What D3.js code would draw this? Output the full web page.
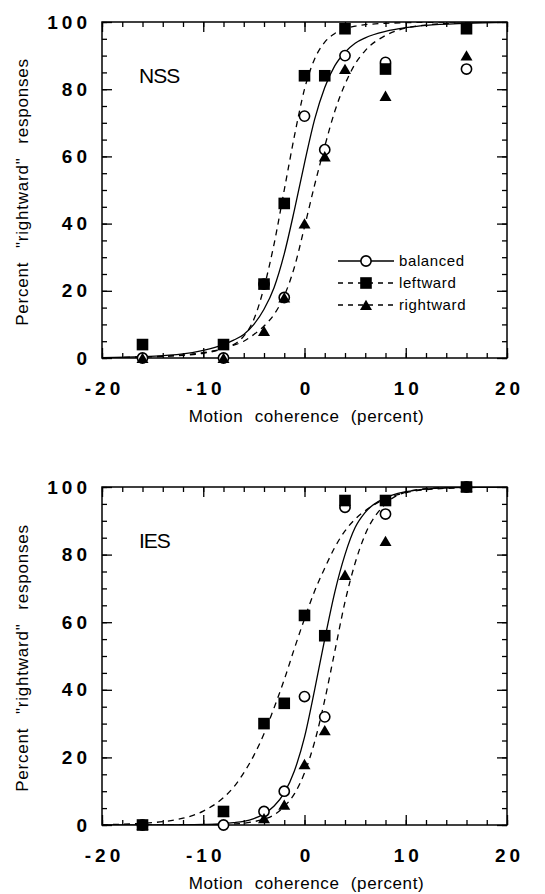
<!DOCTYPE html>
<html>
<head>
<meta charset="utf-8">
<script src="https://cdn.jsdelivr.net/npm/d3@7"></script>
<style>
  body { margin: 0; background: #fff; }
  svg { display: block; font-family: "Liberation Sans", Arial, sans-serif; }
  .tick-label { font-size: 19px; font-weight: bold; letter-spacing: 4px; }
  .axis-title { font-size: 17px; word-spacing: 6px; letter-spacing: 0.6px; }
  .legend-text { font-size: 15px; letter-spacing: 0.6px; }
</style>
</head>
<body>
<script>
// coherence levels used for the data points
var coherence = [-16, -8, -4, -2, 0, 2, 4, 8, 16];

// NSS (top panel), percent rightward
var nssBalanced  = [0, 0, 22, 18, 72, 62, 90, 88, 86];
var nssLeftward  = [4, 4, 22, 46, 84, 84, 98, 86, 98];
var nssRightward = [0, 0, 8, 18, 40, 60, 86, 78, 90];

// IES (bottom panel)
var iesBalanced  = [0, 0, 4, 10, 38, 32, 94, 92, 100];
var iesLeftward  = [0, 4, 30, 36, 62, 56, 96, 96, 100];
var iesRightward = [0, 4, 2, 6, 18, 28, 74, 84, 100];

// fitted curves
var fitX = [-20, -16, -12, -10, -8, -7, -6, -5, -4, -3, -2, -1, 0, 1, 2, 3, 4, 5, 6, 8, 10, 12, 16, 20];
var nssFitBalanced  = [0.1, 0.4, 1.2, 2.3, 4, 5.3, 7, 10, 14.5, 21, 31, 44, 58, 71, 80.5, 87, 91, 93.7, 95.3, 97.2, 98.3, 99, 99.6, 99.9];
var nssFitLeftward  = [0, 0.3, 0.8, 1.4, 2.8, 4, 6.5, 11.5, 21, 34, 50, 66, 80, 89, 94, 96.6, 98, 98.8, 99.2, 99.6, 99.8, 99.9, 100, 100];
var nssFitRightward = [0, 0.3, 0.9, 1.6, 2.8, 3.8, 5, 7, 9.5, 13, 18.5, 27, 39, 51.5, 63, 73.5, 81.5, 87.5, 91.5, 96, 98.2, 99.1, 99.8, 100];
var iesFitBalanced  = [0, 0, 0.05, 0.15, 0.4, 0.7, 1.1, 1.9, 3.3, 5.6, 9.5, 16, 26, 40, 55, 69, 80, 88, 92.5, 96.8, 98.6, 99.4, 99.9, 100];
var iesFitLeftward  = [0.1, 0.5, 2, 4.1, 8.1, 11.2, 15.4, 20.6, 27, 34.7, 43, 52.2, 61, 69.2, 76, 82.2, 87, 90.5, 93, 96.5, 98.3, 99.2, 99.8, 100];
var iesFitRightward = [0, 0, 0, 0.05, 0.2, 0.3, 0.5, 1, 1.7, 3, 5.5, 9.2, 15.4, 24.6, 37, 51.5, 66, 77.5, 86, 95, 98.5, 99.5, 100, 100];

var xLabels = [-20, -10, 0, 10, 20];
var yLabels = [0, 20, 40, 60, 80, 100];
var seriesNames = ["balanced", "leftward", "rightward"];

var W = 545, H = 894;
var left = 102, right = 507;

var svg = d3.select("body").append("svg")
	.attr("width", W)
	.attr("height", H);

var x = d3.scaleLinear().domain([-20, 20]).range([left, right]);

var circleSym = d3.symbol().type(d3.symbolCircle).size(82);

function drawMarker(g, kind, cx, cy) {
	if (kind == "balanced") {
		g.append("path").attr("d", circleSym())
			.attr("transform", "translate(" + cx + "," + cy + ")")
			.attr("fill", "#fff").attr("stroke", "#000").attr("stroke-width", 1.6);
	} else if (kind == "leftward") {
		g.append("rect")
			.attr("x", cx - 5.8).attr("y", cy - 5.8)
			.attr("width", 11.6).attr("height", 11.6)
			.attr("fill", "#000");
	} else {
		// triangle centred on its bounding box
		var p = d3.path();
		p.moveTo(cx, cy - 5.3);
		p.lineTo(cx + 6, cy + 5);
		p.lineTo(cx - 6, cy + 5);
		p.closePath();
		g.append("path").attr("d", p.toString()).attr("fill", "#000");
	}
}

/* draws one panel, top and bottom are the pixel rows of 100 and 0 */
function drawPanel(top, bottom, name, data, fits, showLegend) {
	var y = d3.scaleLinear().domain([0, 100]).range([bottom, top]);
	var g = svg.append("g");

	// inward ticks on all four sides
	var minorX = d3.range(-20, 21, 2), majorX = xLabels;
	var minorY = d3.range(0, 101, 5), majorY = yLabels;

	g.append("g").attr("transform", "translate(0," + bottom + ")")
		.call(d3.axisBottom(x).tickValues(minorX).tickSize(-5).tickFormat(""));
	g.append("g").attr("transform", "translate(0," + bottom + ")")
		.call(d3.axisBottom(x).tickValues(majorX).tickSize(-10).tickFormat(""));
	g.append("g").attr("transform", "translate(0," + top + ")")
		.call(d3.axisTop(x).tickValues(minorX).tickSize(-5).tickFormat(""));
	g.append("g").attr("transform", "translate(0," + top + ")")
		.call(d3.axisTop(x).tickValues(majorX).tickSize(-10).tickFormat(""));
	g.append("g").attr("transform", "translate(" + left + ",0)")
		.call(d3.axisLeft(y).tickValues(minorY).tickSize(-5).tickFormat(""));
	g.append("g").attr("transform", "translate(" + left + ",0)")
		.call(d3.axisLeft(y).tickValues(majorY).tickSize(-10).tickFormat(""));
	g.append("g").attr("transform", "translate(" + right + ",0)")
		.call(d3.axisRight(y).tickValues(minorY).tickSize(-5).tickFormat(""));
	g.append("g").attr("transform", "translate(" + right + ",0)")
		.call(d3.axisRight(y).tickValues(majorY).tickSize(-10).tickFormat(""));

	g.selectAll(".domain").remove();
	g.selectAll(".tick line").attr("stroke", "#000").attr("stroke-width", 1.3);

	// tick labels
	var xl = g.append("g").attr("transform", "translate(0," + bottom + ")")
		.call(d3.axisBottom(x).tickValues(xLabels).tickSize(0).tickPadding(24).tickFormat(function(d) { return String(d); }));
	xl.select(".domain").remove();
	xl.selectAll("text").attr("class", "tick-label").attr("fill", "#000").attr("font-size", null).attr("font-family", null)
		.attr("dx", "2px");

	var yl = g.append("g").attr("transform", "translate(" + left + ",0)")
		.call(d3.axisLeft(y).tickValues(yLabels).tickSize(0).tickPadding(11));
	yl.select(".domain").remove();
	yl.selectAll("text").attr("class", "tick-label").attr("fill", "#000").attr("font-size", null).attr("font-family", null);

	// frame
	g.append("rect")
		.attr("x", left).attr("y", top)
		.attr("width", right - left).attr("height", bottom - top)
		.attr("fill", "none").attr("stroke", "#000").attr("stroke-width", 1.5);

	// axis titles
	g.append("text").attr("class", "axis-title")
		.attr("x", (left + right) / 2 + 2).attr("y", bottom + 64)
		.attr("text-anchor", "middle")
		.text("Motion coherence (percent)");
	g.append("text").attr("class", "axis-title")
		.attr("transform", "translate(28," + ((top + bottom) / 2 + 2) + ") rotate(-90)")
		.attr("text-anchor", "middle")
		.style("word-spacing", "8px")
		.style("letter-spacing", "0.8px")
		.text("Percent \"rightward\" responses");

	// subject label
	g.append("text")
		.attr("x", 139).attr("y", top + 61)
		.attr("font-size", "21px")
		.attr("letter-spacing", "-1px")
		.text(name);

	// fitted curves
	var line = d3.line()
		.x(function(d) { return x(d[0]); })
		.y(function(d) { return y(d[1]); })
		.curve(d3.curveMonotoneX);

	var clip = "clip-" + name;
	svg.append("clipPath").attr("id", clip).append("rect")
		.attr("x", left).attr("y", top).attr("width", right - left).attr("height", bottom - top);

	seriesNames.forEach(function(s, i) {
		var pts = fitX.map(function(v, j) { return [v, fits[i][j]]; });
		g.append("path")
			.attr("d", line(pts))
			.attr("clip-path", "url(#" + clip + ")")
			.attr("fill", "none")
			.attr("stroke", "#000")
			.attr("stroke-width", 1.3)
			.attr("stroke-dasharray", s == "balanced" ? null : "6,5");
	});

	// data points: circles first, then triangles, then squares
	var order = [0, 2, 1];
	order.forEach(function(i) {
		coherence.forEach(function(c, j) {
			drawMarker(g, seriesNames[i], x(c), y(data[i][j]));
		});
	});

	if (showLegend) {
		var ly = [261, 283, 305];
		seriesNames.forEach(function(s, i) {
			g.append("line")
				.attr("x1", 338).attr("x2", 394)
				.attr("y1", ly[i]).attr("y2", ly[i])
				.attr("stroke", "#000").attr("stroke-width", 1.3)
				.attr("stroke-dasharray", s == "balanced" ? null : "5,5");
			drawMarker(g, s, 366, ly[i]);
			g.append("text").attr("class", "legend-text")
				.attr("x", 399).attr("y", ly[i] + 5)
				.text(s);
		});
	}
}

drawPanel(22, 358, "NSS",
	[nssBalanced, nssLeftward, nssRightward],
	[nssFitBalanced, nssFitLeftward, nssFitRightward], true);

drawPanel(487, 825, "IES",
	[iesBalanced, iesLeftward, iesRightward],
	[iesFitBalanced, iesFitLeftward, iesFitRightward], false);
</script>
</body>
</html>
